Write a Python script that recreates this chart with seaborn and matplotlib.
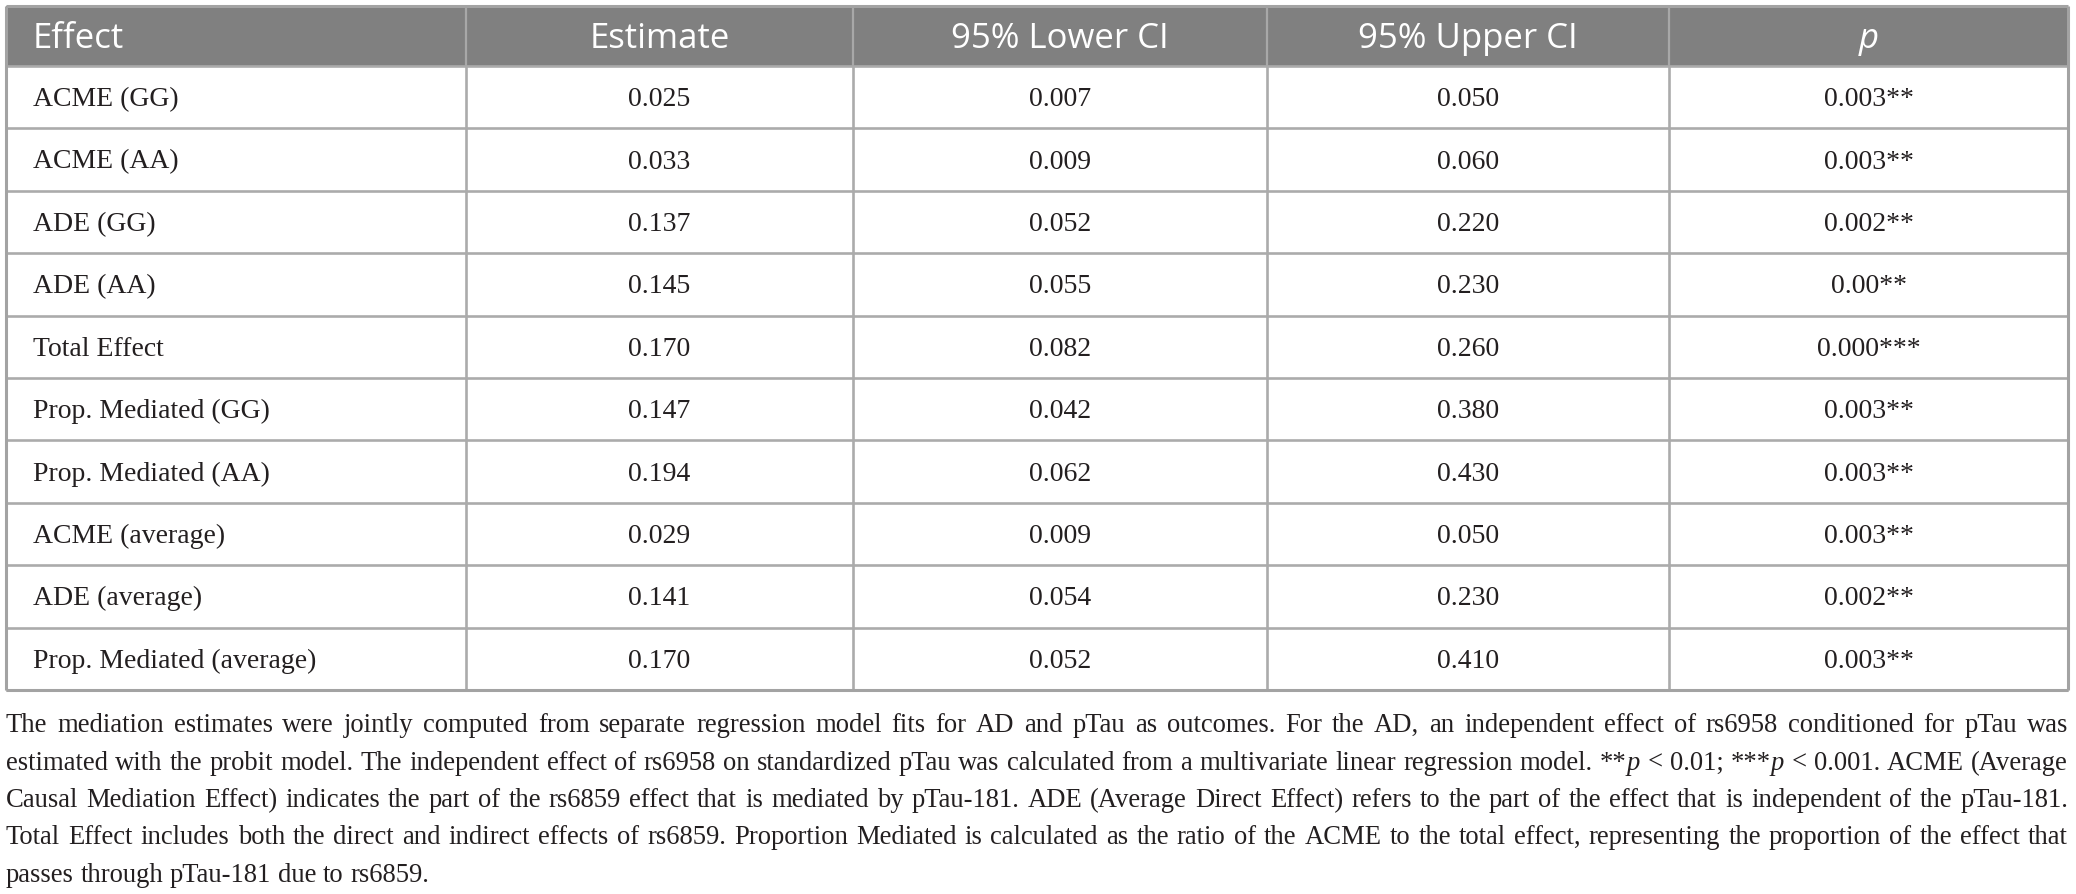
import re
import numpy as np
import pandas as pd
import matplotlib
matplotlib.use("Agg")
import matplotlib.pyplot as plt
from matplotlib.patches import Rectangle
import seaborn as sns

sns.set_theme(style="white")
plt.rcParams['font.family'] = ['Liberation Serif', 'DejaVu Serif']

# ---------------- data ----------------
headers = ["Effect", "Estimate", "95% Lower CI", "95% Upper CI", "p"]
effects = ["ACME (GG)", "ACME (AA)", "ADE (GG)", "ADE (AA)", "Total Effect",
           "Prop. Mediated (GG)", "Prop. Mediated (AA)", "ACME (average)",
           "ADE (average)", "Prop. Mediated (average)"]
estimate = [0.025, 0.033, 0.137, 0.145, 0.170, 0.147, 0.194, 0.029, 0.141, 0.170]
lower_ci = [0.007, 0.009, 0.052, 0.055, 0.082, 0.042, 0.062, 0.009, 0.054, 0.052]
upper_ci = [0.050, 0.060, 0.220, 0.230, 0.260, 0.380, 0.430, 0.050, 0.230, 0.410]
p_values = ["0.003**", "0.003**", "0.002**", "0.00**", "0.000***",
            "0.003**", "0.003**", "0.003**", "0.002**", "0.003**"]
footnote_lines = [
    "The mediation estimates were jointly computed from separate regression model fits for AD and pTau as outcomes. For the AD, an independent effect of rs6958 conditioned for pTau was",
    "estimated with the probit model. The independent effect of rs6958 on standardized pTau was calculated from a multivariate linear regression model. **{p} < 0.01; ***{p} < 0.001. ACME (Average",
    "Causal Mediation Effect) indicates the part of the rs6859 effect that is mediated by pTau-181. ADE (Average Direct Effect) refers to the part of the effect that is independent of the pTau-181.",
    "Total Effect includes both the direct and indirect effects of rs6859. Proportion Mediated is calculated as the ratio of the ACME to the total effect, representing the proportion of the effect that",
    "passes through pTau-181 due to rs6859.",
]

df = pd.DataFrame({
    "Effect": effects,
    "Estimate": [f"{v:.3f}" for v in estimate],
    "95% Lower CI": [f"{v:.3f}" for v in lower_ci],
    "95% Upper CI": [f"{v:.3f}" for v in upper_ci],
    "p": p_values,
})

# ---------------- layout ----------------
W, H = 2076, 894
fig = plt.figure(figsize=(W / 100, H / 100), dpi=100)
ax = fig.add_axes([0, 0, 1, 1])
ax.set_xlim(0, W)
ax.set_ylim(H, 0)
ax.axis("off")

col_edges = [6, 466, 853, 1267, 1669, 2068]
table_top = 6
header_bot = 66
row_h = 62.4
n_rows = len(df)
table_bot = header_bot + n_rows * row_h

header_fill = "#808080"
line_col = "#ababab"
border_col = "#a3a3a3"
text_col = "#231f20"

ax.add_patch(Rectangle((col_edges[0], table_top), col_edges[-1] - col_edges[0],
                       header_bot - table_top, facecolor=header_fill,
                       edgecolor="none", zorder=1))

for i in range(n_rows + 1):
    y = header_bot + i * row_h
    ax.plot([col_edges[0], col_edges[-1]], [y, y], color=line_col, lw=1.9,
            solid_capstyle="butt", zorder=2)

for j, x in enumerate(col_edges):
    if j in (0, len(col_edges) - 1):
        ax.plot([x, x], [table_top, table_bot], color=border_col, lw=2.2,
                solid_capstyle="butt", zorder=3)
    else:
        ax.plot([x, x], [table_top, header_bot], color="#a8a8a8", lw=1.6,
                solid_capstyle="butt", zorder=2)
        ax.plot([x, x], [header_bot, table_bot], color=line_col, lw=1.9,
                solid_capstyle="butt", zorder=2)
ax.plot([col_edges[0], col_edges[-1]], [table_top, table_top], color=border_col,
        lw=2.2, solid_capstyle="butt", zorder=3)
ax.plot([col_edges[0], col_edges[-1]], [table_bot, table_bot], color=border_col,
        lw=2.2, solid_capstyle="butt", zorder=3)

# header text
hdr_base = 48
for j, h in enumerate(headers):
    if j == 0:
        x, ha = 33, "left"
    else:
        x, ha = (col_edges[j] + col_edges[j + 1]) / 2, "center"
    ax.text(x, hdr_base, h, fontsize=25, color="white", ha=ha, va="baseline",
            family=["Open Sans", "DejaVu Sans"],
            style="italic" if h == "p" else "normal", zorder=4)

# body text
BODY_FS = 20
for i in range(n_rows):
    yb = header_bot + (i + 0.5) * row_h + 9
    for j, col in enumerate(df.columns):
        val = df.iloc[i, j]
        if j == 0:
            x, ha = 33, "left"
        else:
            x, ha = (col_edges[j] + col_edges[j + 1]) / 2, "center"
        ax.text(x, yb, val, fontsize=BODY_FS, color=text_col, ha=ha,
                va="baseline", zorder=4)

# ---------------- justified footnote ----------------
fig.canvas.draw()
renderer = fig.canvas.get_renderer()
left, right = 6, 2068
base0, line_gap = 732, 37.5


def text_width(s, fs, style="normal"):
    t = ax.text(0, 0, s, fontsize=fs, style=style)
    w = t.get_window_extent(renderer=renderer).width
    t.remove()
    return w


def split_pieces(word):
    parts = [p for p in re.split(r"(\{p\})", word) if p]
    return [("p", "italic") if p == "{p}" else (p, "normal") for p in parts]


def measure_lines(fs):
    sp = text_width("x x", fs) - text_width("xx", fs)
    out = []
    for line in footnote_lines:
        words = line.split(" ")
        wl = []
        for w in words:
            pcs = [(s, st, text_width(s, fs, st)) for s, st in split_pieces(w)]
            wl.append(pcs)
        out.append(wl)
    return sp, out


fs0 = 19
sp0, m0 = measure_lines(fs0)
nat = []
for wl in m0[:-1]:
    nat.append(sum(p[2] for pcs in wl for p in pcs) + sp0 * (len(wl) - 1))
FS = fs0 * (right - left) / max(nat) * 0.995
space_w, measured = measure_lines(FS)

for li, wl in enumerate(measured):
    widths = [sum(p[2] for p in pcs) for pcs in wl]
    total = sum(widths)
    last = li == len(measured) - 1
    gap = space_w if last else (right - left - total) / (len(wl) - 1)
    x = left
    yb = base0 + li * line_gap
    for pcs, tw in zip(wl, widths):
        px = x
        for s, st, pw in pcs:
            ax.text(px, yb, s, fontsize=FS, style=st, color=text_col,
                    ha="left", va="baseline")
            px += pw
        x += tw + gap

fig.savefig("out.png", dpi=100)
